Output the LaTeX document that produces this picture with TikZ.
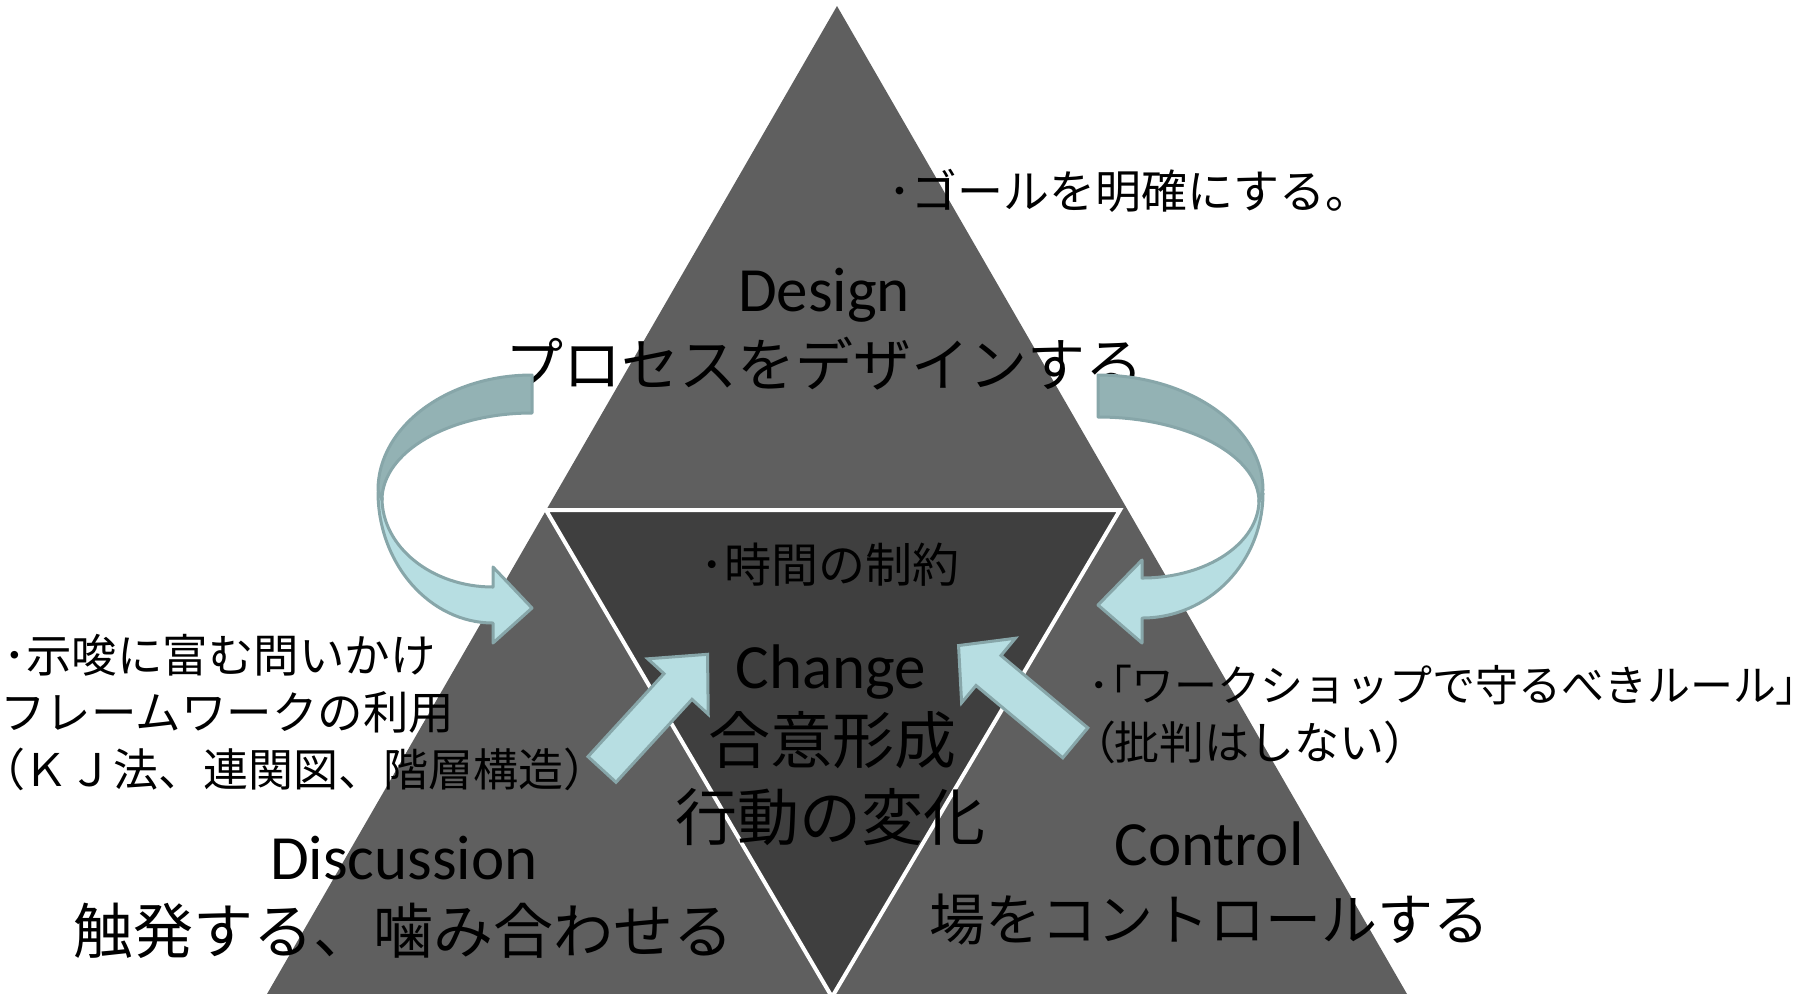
\documentclass[tikz,border=0pt]{standalone}
\usepackage{fontspec}
\setmainfont{Carlito}
\newfontfamily\jp{Noto Sans CJK JP}
\newfontfamily\jpp[RawFeature=+palt]{Noto Sans CJK JP}
\definecolor{tri}{HTML}{5F5F5F}
\definecolor{innertri}{HTML}{3F3F3F}
\definecolor{arrowlight}{HTML}{B7DEE2}
\definecolor{arrowdark}{HTML}{93B2B4}
\definecolor{arrowline}{HTML}{87A6A9}
\tikzset{
  lat/.style={font=\fontsize{31.5}{36}\selectfont, anchor=base, inner sep=0pt, text=black},
  jpt/.style={font=\jp\fontsize{#1}{#1}\selectfont, inner sep=0pt, text=black},
  lightpart/.style={fill=arrowlight, draw=arrowline, line width=1.5pt, line join=round},
  darkpart/.style={fill=arrowdark, draw=arrowline, line width=1.5pt, line join=round},
  blockarrow/.style={fill=arrowlight, draw=arrowline, line width=1.5pt, line join=miter}
}
\begin{document}
\begin{tikzpicture}[x=0.5pt,y=-0.5pt]
\useasboundingbox (0,0) rectangle (1814,993);
\clip (0,0) rectangle (1814,993);
% pyramid
\fill[tri] (837,6) -- (252,1020) -- (1422,1020) -- cycle;
\filldraw[fill=innertri, draw=white, line width=2pt] (546,510) -- (1120,510) -- (832,997) -- cycle;
% texts
\node[jpt=23, anchor=west] (goal) at (888,191) {･ゴールを明確にする。};
\node[lat] (design) at (824,311) {Design};
\node[jpt=29] (designjp) at (824,364) {プロセスをデザインする};
\node[jpt=23.5] (jikan) at (830,565) {･時間の制約};
\node[lat] (change) at (831,688) {Change};
\node[jpt=31] (goui) at (832,740) {合意形成};
\node[jpt=31] (koudou) at (830,817) {行動の変化};
\node[lat] (discussion) at (404,879) {Discussion};
\node[jpt=30] (discussionjp) at (403,931) {触発する、噛み合わせる};
\node[lat] (control) at (1209,865) {Control};
\node[jpt=28] (controljp) at (1209,920) {場をコントロールする};
\node[jpt=22.75, anchor=west] (left1) at (3,655) {･示唆に富む問いかけ};
\node[jpt=22.75, anchor=west] (left2) at (0,712) {フレームワークの利用};
\node[jpt=22.5, anchor=west] (left3) at (1,769) {{\jpp（}ＫＪ法、連関図、階層構造）};
\node[jpt=21.5, anchor=west] (right1) at (1088,685) {･{\jpp「}ワークショップで守るべきルール{\jpp」}};
\node[jpt=22.5, anchor=west] (right2) at (1092,742) {{\jpp（}批判はしない{\jpp）}};
% left curved arrow
\filldraw[lightpart] (382,498) .. controls (382,547) and (432,587) .. (493,587) -- (493,567) -- (532,608) -- (493,643) -- (493,623) .. controls (430,623) and (378,564) .. (378,492) -- cycle;
\filldraw[darkpart] (532,375) .. controls (447,375) and (378,427) .. (378,490) -- (382,500) .. controls (382,452) and (449,413) .. (532,413) -- cycle;
% right curved arrow
\filldraw[lightpart] (1259,500) .. controls (1259,543) and (1207,578) .. (1142,578) -- (1142,560) -- (1098,605) -- (1142,643) -- (1142,618) .. controls (1209,618) and (1263,562) .. (1263,493) -- cycle;
\filldraw[darkpart] (1098,375) .. controls (1189,375) and (1263,427) .. (1263,490) -- (1259,502) .. controls (1259,455) and (1186,417) .. (1098,417) -- cycle;
% straight arrows
\begin{scope}[shift={(678,686.5)}, rotate=47.5]
\filldraw[blockarrow] (-112.5,19) -- (0,19) -- (0,41) -- (43.7,0) -- (0,-41) -- (0,-19) -- (-112.5,-19) -- cycle;
\end{scope}
\begin{scope}[shift={(988.5,670.5)}, rotate=140.2]
\filldraw[blockarrow] (-113,19.5) -- (0,19.5) -- (0,42) -- (39,0) -- (0,-42) -- (0,-19.5) -- (-113,-19.5) -- cycle;
\end{scope}
\end{tikzpicture}
\end{document}
